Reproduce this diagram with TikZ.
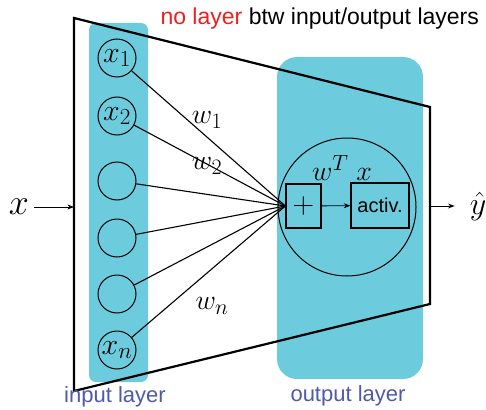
\documentclass[tikz,border=0pt]{standalone}
\usepackage{fix-cm}
\usepackage{fontspec}
\usetikzlibrary{arrows.meta,positioning,calc}
\newfontfamily\arialfont{Liberation Sans}
\definecolor{layercyan}{HTML}{6CCCDD}
\definecolor{layerblue}{HTML}{4F5AAA}
\definecolor{notered}{HTML}{F01E1E}
% larger subscripts, as in the slide
\DeclareMathSizes{30}{30}{23}{17}
\DeclareMathSizes{28}{28}{22}{16}

\begin{document}
\begin{tikzpicture}[
  x=1pt, y=-1pt,
  inp/.style={draw, circle, line width=1pt, minimum size=38pt, inner sep=0pt, font=\fontsize{30}{30}\selectfont},
  layer/.style={fill=layercyan, draw=none},
  opbox/.style={draw, line width=1.2pt, inner sep=0pt},
  wlab/.style={font=\fontsize{28}{28}\selectfont},
  layercap/.style={font=\arialfont\fontsize{22}{22}\selectfont, text=layerblue},
  >=Stealth
]
\useasboundingbox (0,0) rectangle (486,409);

% layers
\fill[layer, rounded corners=7pt] (89,23) rectangle (148,382);
\fill[layer, rounded corners=20pt] (277,57) rectangle (423,379);

% input units
\node[inp] (c1) at (117,58) {$x_1$};
\node[inp] (c2) at (117,116) {$x_2$};
\node[inp] (c3) at (117,181) {};
\node[inp] (c4) at (117,238) {};
\node[inp] (c5) at (117,294) {};
\node[inp] (c6) at (117,350) {$x_n$};

% output unit
\node[draw, circle, line width=1pt, minimum size=138pt] (neuron) at (347,207) {};
\node[opbox, minimum width=35pt, minimum height=44pt, font=\fontsize{30}{30}\selectfont] (plus) at (303.5,206) {$+$};
\node[opbox, minimum width=58pt, minimum height=45pt, font=\arialfont\fontsize{20}{20}\selectfont] (act) at (380,205.5) {activ.};
\draw[->, line width=0.8pt] (plus) -- (act);

\foreach \i in {1,...,6}
  \draw[line width=1.1pt] (c\i) -- (plus.west);

\node[wlab] (w1) at (207,120) {$w_1$};
\node[wlab] (w2) at (207,166) {$w_2$};
\node[wlab] (wn) at (212,306) {$w_n$};
\node[wlab] (wtx) at (342,168) {$w^T\;x$};

% box round the model
\coordinate (tl) at (74,18);
\coordinate (tr) at (430,107);
\coordinate (br) at (430,304);
\coordinate (bl) at (74,391);
\draw[line width=2.2pt] (tl) -- (tr) -- (br) -- (bl) -- cycle;

% in and out
\node[font=\fontsize{36}{36}\selectfont, inner sep=1pt] (xin) at (19,207) {$x$};
\node[font=\fontsize{32}{32}\selectfont, inner sep=1pt] (yout) at (478,206) {$\hat{y}$};
\draw[->, line width=0.8pt] (xin.east) ++(4,0) -- (xin.east -| tl);
\draw[->, line width=0.8pt] (yout.west -| tr) ++(1,0) -- ($(yout.west)+(-14,0)$);

% captions
\node[font=\arialfont\fontsize{23}{23}\selectfont, anchor=west] (note) at (157,19) {\textcolor{notered}{no layer} btw input/output layers};
\node[layercap] (incap) at (115,397) {input layer};
\node[layercap] (outcap) at (348,396) {output layer};

\end{tikzpicture}
\end{document}
